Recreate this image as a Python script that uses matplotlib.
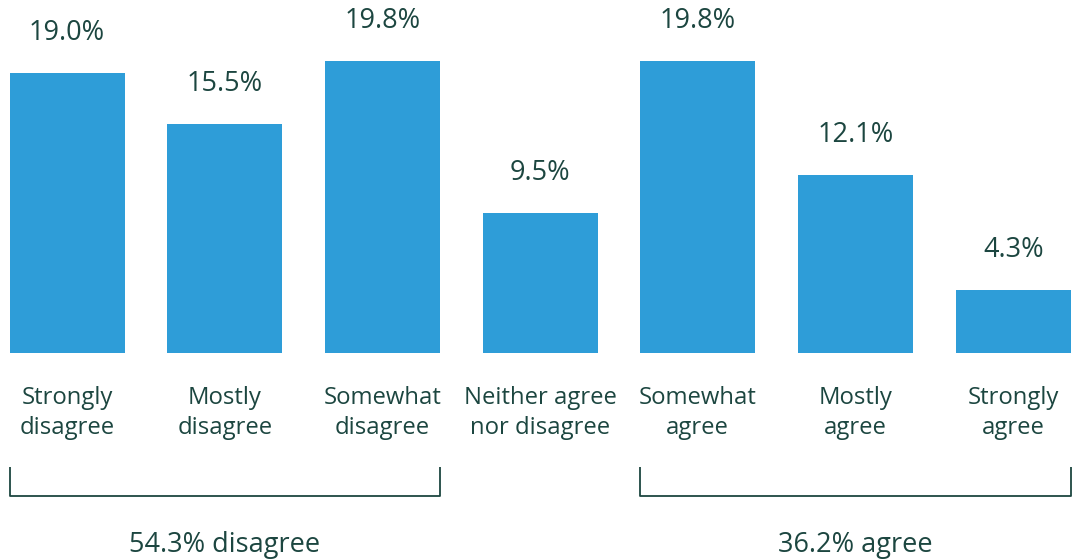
import matplotlib
matplotlib.use("Agg")
import matplotlib.pyplot as plt

categories = ["Strongly\ndisagree", "Mostly\ndisagree", "Somewhat\ndisagree",
              "Neither agree\nnor disagree", "Somewhat\nagree", "Mostly\nagree", "Strongly\nagree"]
values = [19.0, 15.5, 19.8, 9.5, 19.8, 12.1, 4.3]
groups = [("54.3% disagree", 0, 2), ("36.2% agree", 4, 6)]

BAR = "#2e9dd8"
TXT = "#1c4640"
plt.rcParams['font.family'] = ['Open Sans', 'DejaVu Sans']

fig = plt.figure(figsize=(10.79, 5.6), dpi=100)
ax = fig.add_axes([0, 0, 1, 1])
ax.axis("off")
pxu = 157.7
ax.set_xlim(-67 / pxu, (1079 - 67) / pxu)
s = 14.75
ax.set_ylim(-207 / s, 353 / s)

w = 115 / pxu
xs = list(range(len(values)))
ax.bar(xs, values, width=w, color=BAR)
for x, v, c in zip(xs, values, categories):
    ax.text(x, v + 40 / s, f"{v:.1f}%", ha="center", va="center", fontsize=19.5, color=TXT)
    ax.text(x, -60 / s, c, ha="center", va="center", fontsize=17.2, color=TXT, linespacing=1.32)

for label, a, b in groups:
    x0, x1 = a - w / 2, b + w / 2
    ytop, ybot = -114 / s, -143 / s
    ax.plot([x0, x0, x1, x1], [ytop, ybot, ybot, ytop], color=TXT, lw=1.3, solid_capstyle="butt")
    ax.text((a + b) / 2, -192 / s, label, ha="center", va="center", fontsize=19.5, color=TXT)

fig.savefig("out.png", dpi=100)
